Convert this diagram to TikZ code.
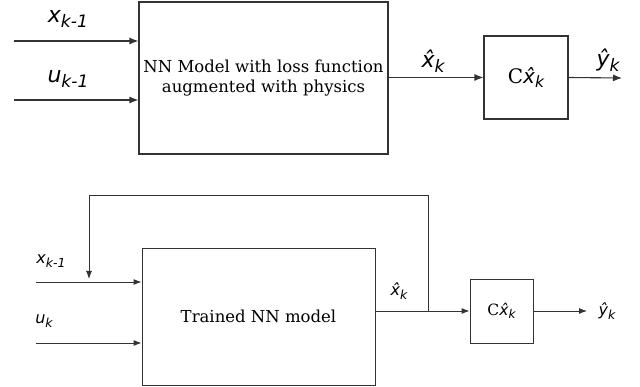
\documentclass[tikz,border=0pt]{standalone}
\usepackage{fontspec}
\setmainfont{DejaVu Serif}
\newfontfamily\symfont{DejaVu Sans}
\usetikzlibrary{arrows.meta,positioning}
\definecolor{bdline}{HTML}{333333}
% italic sans symbol with a large, slightly lowered subscript
\makeatletter
\newcommand{\symsub}[2]{{\symfont\itshape #1\raisebox{-.22em}{\fontsize{\fpeval{0.78*\f@size}}{1}\selectfont #2}}}
\makeatother
\tikzset{
  bdbox/.style={draw=bdline, line width=1.1pt, fill=white, inner sep=0pt, align=center},
  bdedge/.style={-{Latex[length=9pt,width=7pt]}, draw=bdline, line width=1.1pt},
  bdline/.style={draw=bdline, line width=1.1pt},
  bdlabel/.style={inner sep=0pt, text=black},
}
\begin{document}
\begin{tikzpicture}[x=1pt,y=-1pt]
  \useasboundingbox (0,0) rectangle (640,387);
  % training stage
  \node[bdbox, minimum width=249, minimum height=152, font=\fontsize{16.5}{20}\selectfont] (pinn) at (263.5,78)
    {NN Model with loss function\\augmented with physics};
  \node[bdbox, minimum width=84, minimum height=83, font=\fontsize{20}{22}\selectfont] (cout) at (526,77.5)
    {C\symsub{\^{x}}{k}};
  \coordinate (xin) at (14,41);
  \coordinate (uin) at (14,100);
  \coordinate (yout) at (622,78);
  \node[bdlabel, font=\fontsize{22}{24}\selectfont] (xlbl) at (68,19) {\symsub{x}{k-1}};
  \node[bdlabel, font=\fontsize{22}{24}\selectfont] (ulbl) at (68,79) {\symsub{u}{k-1}};
  \node[bdlabel, font=\fontsize{22}{24}\selectfont] (xhlbl) at (433,61) {\symsub{\^{x}}{k}};
  \node[bdlabel, font=\fontsize{22}{24}\selectfont] (yhlbl) at (608,60) {\symsub{\^{y}}{k}};
  \draw[bdedge] (xin) -- (xin -| pinn.west);
  \draw[bdedge] (uin) -- (uin -| pinn.west);
  \draw[bdedge] (pinn.east |- cout) -- (cout.west);
  \draw[bdedge] (cout.east) -- (yout);

  % inference stage
  \begin{scope}[bdedge/.append style={line width=0.9pt, -{Latex[length=8pt,width=6pt]}},
                bdline/.append style={line width=0.9pt},
                bdbox/.append style={line width=0.9pt}]
  \node[bdbox, minimum width=233, minimum height=137, font=\fontsize{16.5}{18}\selectfont] (nnmodel) at (258.5,316.5)
    {Trained NN model};
  \node[bdbox, minimum width=63, minimum height=64, font=\fontsize{15.5}{16}\selectfont] (cobs) at (501.5,311)
    {C\symsub{\^{x}}{k}};
  \coordinate (xin2) at (36,282);
  \coordinate (uin2) at (36,343);
  \coordinate (tap) at (428,311);
  \coordinate (fbtop) at (89,195);
  \coordinate (fbend) at (89,279);
  \coordinate (yout2) at (587,311);
  \node[bdlabel, font=\fontsize{16}{18}\selectfont] (xlbl2) at (51,261) {\symsub{x}{k-1}};
  \node[bdlabel, font=\fontsize{16}{18}\selectfont] (ulbl2) at (44,321) {\symsub{u}{k}};
  \node[bdlabel, font=\fontsize{16}{18}\selectfont] (xhlbl2) at (399,291) {\symsub{\^{x}}{k}};
  \node[bdlabel, font=\fontsize{16}{18}\selectfont] (yhlbl2) at (607,311) {\symsub{\^{y}}{k}};
  \draw[bdedge] (xin2) -- (xin2 -| nnmodel.west);
  \draw[bdedge] (uin2) -- (uin2 -| nnmodel.west);
  \draw[bdedge] (nnmodel.east |- cobs) -- (cobs.west);
  \draw[bdedge] (cobs.east) -- (yout2);
  \draw[bdline] (tap) -- (tap |- fbtop) -- (fbtop);
  \draw[bdedge] (fbtop) -- (fbend);
  \end{scope}
\end{tikzpicture}
\end{document}
